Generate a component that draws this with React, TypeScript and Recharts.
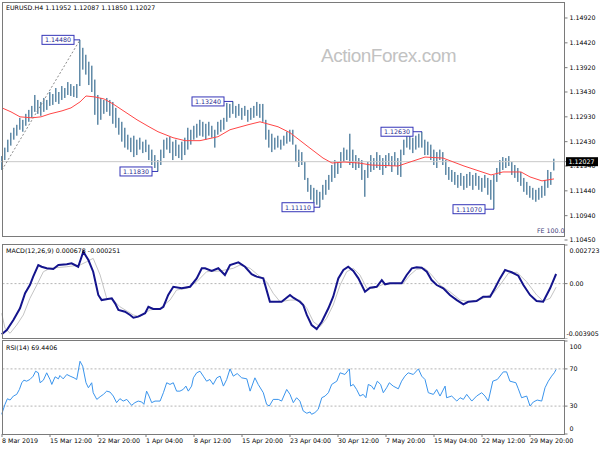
import React from "react";
import {
  ComposedChart,
  LineChart,
  Bar,
  Line,
  XAxis,
  YAxis,
  ReferenceLine,
  ReferenceDot,
} from "recharts";

// MT4-like palette
const FONT = '"DejaVu Sans", Verdana, sans-serif';
const FS = 6.3;
const INK = "#000000";
const BAR = "#48789a";
const MA_RED = "#ff4646";
const NAVY = "#14148c";
const SILVER = "#c4c4c4";
const RSI_BLUE = "#3a94ec";
const PIVOT = "#3535b8";
const FRAME = "#7a7a7a";

const lastBar = { open: 1.11952, high: 1.12087, low: 1.1185, close: 1.12027 };

// H4 bars (two bars per slot)
const priceHigh = [
  1.1214, 1.1231, 1.1247, 1.1261, 1.1271, 1.1277, 1.1291, 1.1287, 1.1299, 1.1307,
  1.1315, 1.1337, 1.1327, 1.1323, 1.1331, 1.1327, 1.1343, 1.1339, 1.1351, 1.1343,
  1.1355, 1.1351, 1.1363, 1.1359, 1.1355, 1.1359, 1.1448, 1.1432, 1.1418, 1.1404,
  1.1396, 1.1368, 1.1337, 1.1331, 1.1327, 1.1331, 1.1327, 1.1323, 1.1311, 1.1291,
  1.1283, 1.1271, 1.1257, 1.1251, 1.1255, 1.1247, 1.1251, 1.1243, 1.1247, 1.1237,
  1.1227, 1.1216, 1.1206, 1.1227, 1.1247, 1.1251, 1.1253, 1.1243, 1.1247, 1.1237,
  1.1243, 1.1251, 1.1271, 1.1267, 1.1275, 1.1279, 1.1287, 1.1283, 1.1279, 1.1283,
  1.1275, 1.1267, 1.1283, 1.1287, 1.1291, 1.1321, 1.1319, 1.1324, 1.1315, 1.1319,
  1.1311, 1.1315, 1.1307, 1.1311, 1.1315, 1.1323, 1.1319, 1.1319, 1.1287, 1.1267,
  1.1259, 1.1251, 1.1255, 1.1247, 1.1255, 1.1263, 1.1267, 1.1267, 1.1237, 1.1227,
  1.1222, 1.1202, 1.117, 1.1156, 1.115, 1.1146, 1.1142, 1.1156, 1.1166, 1.1176,
  1.1196, 1.1206, 1.1202, 1.1222, 1.1231, 1.1227, 1.1259, 1.1227, 1.1216, 1.121,
  1.1206, 1.1186, 1.1202, 1.1216, 1.121, 1.1222, 1.1216, 1.121, 1.1216, 1.122,
  1.1214, 1.1222, 1.121, 1.1227, 1.1247, 1.1259, 1.1257, 1.1251, 1.1255, 1.1259,
  1.1263, 1.1247, 1.1243, 1.1237, 1.1227, 1.1222, 1.1227, 1.1222, 1.1206, 1.1192,
  1.1186, 1.1182, 1.1176, 1.118, 1.1174, 1.1178, 1.1182, 1.1176, 1.118, 1.1174,
  1.117, 1.1176, 1.117, 1.1166, 1.1176, 1.119, 1.1206, 1.1212, 1.121, 1.1214,
  1.1202, 1.1196, 1.119, 1.1182, 1.117, 1.1162, 1.1154, 1.115, 1.1146, 1.115,
  1.1154, 1.1166, 1.1186, 1.1182, 1.12087,
];

const priceLow = [
  1.1186, 1.1206, 1.1222, 1.1235, 1.1247, 1.1255, 1.1267, 1.1263, 1.1275, 1.1283,
  1.1291, 1.1303, 1.1299, 1.1295, 1.1303, 1.1307, 1.1315, 1.1317, 1.1323, 1.1319,
  1.1327, 1.1331, 1.1337, 1.1335, 1.1333, 1.1331, 1.1355, 1.1388, 1.1378, 1.1357,
  1.1343, 1.1297, 1.1277, 1.1287, 1.1299, 1.1303, 1.1295, 1.1279, 1.1271, 1.1257,
  1.1243, 1.1231, 1.1227, 1.1222, 1.1212, 1.1216, 1.1227, 1.122, 1.1222, 1.1206,
  1.1196, 1.119, 1.1183, 1.1196, 1.121, 1.1227, 1.122, 1.1206, 1.1214, 1.121,
  1.1206, 1.1216, 1.1227, 1.1237, 1.1247, 1.1251, 1.1255, 1.1253, 1.1247, 1.1255,
  1.1251, 1.1231, 1.1257, 1.1263, 1.1267, 1.1283, 1.1291, 1.1299, 1.1291, 1.1295,
  1.1287, 1.1295, 1.1283, 1.1287, 1.1291, 1.1295, 1.1291, 1.1283, 1.1247, 1.1231,
  1.1222, 1.1227, 1.1231, 1.1227, 1.1235, 1.1239, 1.1243, 1.1237, 1.1202, 1.1192,
  1.1196, 1.1166, 1.1142, 1.1126, 1.112, 1.1116, 1.1111, 1.1126, 1.1136, 1.1146,
  1.1162, 1.117, 1.1178, 1.119, 1.1202, 1.1206, 1.1196, 1.119, 1.1186, 1.119,
  1.1166, 1.1132, 1.117, 1.1182, 1.1186, 1.119, 1.1186, 1.1176, 1.119, 1.1194,
  1.1182, 1.1194, 1.1176, 1.1172, 1.1216, 1.1231, 1.1227, 1.122, 1.1227, 1.1231,
  1.1231, 1.1216, 1.1216, 1.1206, 1.1196, 1.119, 1.1206, 1.1196, 1.1176, 1.1166,
  1.1162, 1.1156, 1.115, 1.1154, 1.1146, 1.115, 1.1154, 1.1146, 1.1154, 1.1146,
  1.1142, 1.115, 1.1136, 1.1126, 1.1107, 1.1162, 1.1176, 1.1186, 1.119, 1.1194,
  1.1176, 1.117, 1.1162, 1.1154, 1.1142, 1.1136, 1.113, 1.1126, 1.1122, 1.1126,
  1.113, 1.1134, 1.115, 1.1156, 1.1185,
];

// moving average, [slot, price]
const maPoints: [number, number][] = [
  [0, 1.1311], [3, 1.1303], [6, 1.1293], [10, 1.1291], [13, 1.1293], [16, 1.1299],
  [20, 1.1305], [23, 1.1311], [26, 1.1323], [28, 1.1335], [31, 1.1333], [34, 1.1329],
  [37, 1.1319], [40, 1.1307], [45, 1.1287], [49, 1.1273], [52, 1.1263], [57, 1.1251],
  [61, 1.1245], [66, 1.1245], [72, 1.1253], [76, 1.1267], [82, 1.1277], [86, 1.1283],
  [92, 1.1273], [96, 1.1261], [102, 1.1233], [107, 1.121], [110, 1.12], [114, 1.1202],
  [119, 1.12], [123, 1.1196], [132, 1.1194], [136, 1.1202], [141, 1.1212], [147, 1.121],
  [154, 1.1194], [163, 1.1176], [167, 1.1182], [173, 1.1182], [176, 1.1172], [180, 1.1164],
  [184, 1.1168],
];

const macdMain: [number, number][] = [
  [-0.6, -0.00357], [1.1, -0.00327], [3.3, -0.00257], [5.5, -0.00174], [7.2, -0.00068],
  [8.8, -0.0001], [9.9, 0.00049], [11.6, 0.00131], [12.7, 0.00119], [14.4, 0.00108],
  [16.6, 0.00103], [18.3, 0.00131], [21.1, 0.00136], [22.7, 0.00143], [24.9, 0.00119],
  [26.6, 0.00225], [28.3, 0.00166], [29.9, 0.00084], [31.6, -0.0008], [32.7, -0.00116],
  [36.1, -0.00104], [37.2, -0.00139], [38.3, -0.00186], [40.5, -0.00198], [42.2, -0.00221],
  [43.3, -0.0024], [44.9, -0.00233], [47.2, -0.00209], [48.3, -0.00163], [49.9, -0.00179],
  [52.2, -0.00179], [53.3, -0.00163], [54.9, -0.0008], [56.6, -0.00022], [59.4, -0.00033],
  [62.2, -0.00022], [64.4, 0.00037], [66.1, 0.00108], [67.2, 0.00108], [69.4, 0.00089],
  [71.6, 0.00108], [73.8, 0.00061], [75.5, 0.00131], [78.3, 0.0015], [80.5, 0.00119],
  [82.7, 0.00066], [84.4, 0.00049], [86.6, 0.00037], [88.8, -0.00128], [92.7, -0.00128],
  [95.5, -0.0008], [96.6, -0.00099], [98.8, -0.00128], [99.9, -0.00151], [101.1, -0.00221],
  [102.7, -0.00292], [104.4, -0.0032], [106.1, -0.00269], [108.3, -0.00174], [109.9, -0.00092],
  [111.6, 0.00037], [113.3, 0.00096], [114.9, 0.00119], [116.6, 0.00089], [118.3, 0.00037],
  [120.5, -0.00057], [122.2, -0.00029], [124.4, -0.00022], [126.1, 0.00025], [127.2, -0.00005],
  [128.8, 0.00002], [131.1, 0.00002], [132.7, 0.00002], [134.4, 0.00061], [136.1, 0.00108],
  [137.7, 0.00115], [139.4, 0.00112], [141.1, 0.00084], [142.7, 0.00025], [144.4, -0.0001],
  [146.6, -0.00033], [148.8, -0.0008], [151.1, -0.00116], [153.3, -0.00146], [154.9, -0.00128],
  [157.7, -0.00123], [159.9, -0.00092], [162.2, -0.00092], [163.8, -0.00033], [165.5, 0.00037],
  [167.2, 0.00096], [169.4, 0.0008], [171.6, 0.00056], [173.3, -0.0001], [175.5, -0.0008],
  [177.7, -0.00123], [179.9, -0.00128], [182.2, -0.00033], [184.2, 0.000678],
];

const macdSignal: [number, number][] = [
  [-0.6, -0.00209], [0.5, -0.00315], [2.2, -0.0035], [4.4, -0.00292], [6.6, -0.00221],
  [8.8, -0.00104], [11.1, -0.0001], [13.3, 0.00084], [15.5, 0.00108], [21.1, 0.00119],
  [25.5, 0.00131], [27.7, 0.00154], [29.9, 0.00178], [32.2, 0.00061], [34.4, -0.00104],
  [36.6, -0.00116], [38.8, -0.00163], [43.3, -0.00221], [45.5, -0.00233], [48.8, -0.00186],
  [52.2, -0.00174], [55.5, -0.00116], [57.7, -0.00045], [61.1, -0.00033], [64.4, 0.00013],
  [67.7, 0.00084], [72.2, 0.00089], [76.6, 0.00108], [78.8, 0.00131], [82.2, 0.00108],
  [85.5, 0.00049], [87.7, 0.00013], [89.9, -0.00068], [92.2, -0.00128], [95.5, -0.00116],
  [98.8, -0.00116], [101.1, -0.00174], [103.3, -0.00269], [105.5, -0.00304], [107.7, -0.00245],
  [109.9, -0.00151], [112.2, -0.0001], [114.4, 0.00084], [116.6, 0.00108], [118.8, 0.00061],
  [121.1, -0.00033], [123.3, -0.00033], [126.6, -0.00005], [129.9, 0.00002], [133.3, 0.00002],
  [135.5, 0.00061], [137.7, 0.00101], [140.5, 0.00108], [142.7, 0.00061], [145.5, -0.0001],
  [148.8, -0.00057], [152.2, -0.00116], [155.5, -0.00128], [159.9, -0.00104], [163.3, -0.00068],
  [165.5, -0.0001], [168.3, 0.00073], [171.1, 0.0008], [174.4, 0.00013], [177.7, -0.0008],
  [179.9, -0.00123], [182.2, -0.00104], [184.2, -0.000251],
];

const rsiPoints: [number, number][] = [
  [-0.6, 21.2], [0.5, 31.9], [1.3, 37.9], [2.2, 36.5], [3.3, 40.8], [4.4, 42.6], [5.3, 47.9],
  [6.1, 55.1], [6.8, 57.9], [7.7, 56.8], [8.8, 58.6], [9.9, 62.2], [10.7, 67.5], [11.6, 65.8],
  [12.2, 55.1], [13.3, 57.9], [14.4, 65.8], [15.5, 58.6], [16.1, 53.3], [17.2, 61.5], [18.3, 59.3],
  [18.8, 62.9], [19.9, 59.3], [21.1, 64], [22.2, 62.2], [23.5, 60.4], [24.4, 58.6], [25.5, 78.2],
  [26.4, 72.9], [27.5, 55.1], [28.3, 49.7], [29.4, 55.1], [29.9, 44.4], [31.1, 37.2], [32.2, 40.1],
  [33.3, 42.6], [34.4, 46.1], [35.5, 45.1], [36.6, 40.8], [37.7, 33.7], [38.8, 38], [39.9, 35.4],
  [41.1, 37.2], [42.7, 30.8], [43.8, 33.7], [44.9, 35.4], [46.1, 34.4], [46.8, 31.9], [47.7, 46.1],
  [48.5, 40.8], [49.4, 33.7], [50.5, 35.4], [52.2, 35.4], [53.3, 44.4], [54.4, 55.1], [55.5, 53.3],
  [56.6, 55.1], [57.7, 46.1], [58.8, 46.1], [59.9, 47.9], [60.8, 51.5], [61.6, 46.1], [62.7, 51.5],
  [63.3, 60.4], [64.4, 65.8], [65.5, 67.5], [66.6, 62.2], [67.7, 56.8], [68.8, 58.6], [69.9, 53.3],
  [71.1, 60.4], [72.2, 62.2], [73.3, 51.5], [74.4, 58.6], [75.5, 70], [76.6, 62.2], [77.9, 65],
  [79.4, 60.4], [81.1, 59.3], [82.2, 46.1], [83.8, 60.4], [84.9, 53.3], [86.6, 44.4], [87.7, 31.9],
  [88.6, 30.1], [89.9, 37.2], [91.6, 37.2], [92.7, 35.4], [94.4, 47.9], [95.5, 42.6], [96.6, 33.7],
  [97.7, 39], [98.8, 35.4], [99.9, 24.8], [101.1, 22.3], [102.2, 23.7], [102.7, 21.2], [103.8, 23],
  [104.9, 26.5], [106.1, 39], [107.2, 40.8], [108.3, 44.4], [109.4, 53.3], [111.1, 56.8],
  [112.2, 65.8], [113.8, 64], [115.3, 70], [115.7, 51.5], [116.6, 53.3], [117.7, 47.9],
  [118.8, 40.8], [119.9, 42.6], [120.8, 39], [121.6, 53.3], [122.7, 51.5], [123.5, 47.9],
  [124.6, 56.8], [125.7, 53.3], [126.6, 44.4], [127.7, 49.7], [128.6, 55.1], [129.9, 51.5],
  [131.6, 48.6], [132.7, 56.8], [133.8, 62.2], [134.9, 65.8], [136.6, 64], [138.3, 70],
  [139.4, 62.2], [140.5, 58.6], [141.6, 44.4], [143.3, 42.6], [144.4, 47.9], [145.5, 40.8],
  [147.2, 51.5], [147.7, 39], [149.4, 40.8], [151.1, 35.4], [152.2, 39], [153.3, 37.2],
  [154.4, 42.6], [156.1, 35.4], [157.7, 40.8], [159.4, 44.4], [160.5, 40.8], [161.6, 35.4],
  [163.1, 56.8], [164.6, 58.6], [166.6, 66.8], [167.7, 66.8], [168.8, 56.8], [170.8, 55.1],
  [171.6, 48.6], [172.7, 39], [174.4, 40.8], [175.5, 30.1], [176.6, 34.4], [177.9, 36.5],
  [179.4, 35.4], [180.5, 49.7], [181.6, 56.8], [182.7, 62.2], [183.6, 65.8], [184.2, 69.4406],
];

const timeLabels = [
  "8 Mar 2019", "15 Mar 12:00", "22 Mar 20:00", "1 Apr 04:00", "8 Apr 12:00", "15 Apr 20:00",
  "23 Apr 04:00", "30 Apr 12:00", "7 May 20:00", "15 May 04:00", "22 May 12:00", "29 May 20:00",
];

const priceTicks = [1.1045, 1.1094, 1.1144, 1.1194, 1.1243, 1.1293, 1.1343, 1.1392, 1.1442, 1.1492];
const PRICE_DOMAIN: [number, number] = [1.1045, 1.15222];
const MACD_DOMAIN: [number, number] = [-0.003905, 0.002723];

// swing labels: box ends at slot `from`, connector runs to the pivot bar `to`
const pivots = [
  { value: 1.1448, from: 24, to: 26 },
  { value: 1.1324, from: 74, to: 77 },
  { value: 1.1183, from: 50, to: 52 },
  { value: 1.1263, from: 137, to: 140 },
  { value: 1.1111, from: 104, to: 106 },
  { value: 1.1107, from: 161, to: 164 },
];

const SLOTS = 188; // bars + right shift

const maMap = new Map(maPoints);
const priceRows = Array.from({ length: SLOTS }, (_, j) => ({
  j,
  range: j < priceHigh.length ? [priceLow[j], priceHigh[j]] : null,
  ma: maMap.has(j) ? maMap.get(j) : null,
}));
const toRows = (pts: [number, number][]) => pts.map(([j, v]) => ({ j, v }));

const txt = { fontSize: FS, fontFamily: FONT, fill: INK };

function Stick(p: any) {
  if (!p.payload || !p.payload.range) return <g />;
  const w = 1.3;
  const y = Math.min(p.y, p.y + p.height);
  return <rect x={p.x + p.width / 2 - w / 2} y={y} width={w} height={Math.max(1, Math.abs(p.height))} fill={BAR} />;
}

function PriceTick({ x, y, payload }: any) {
  const v = payload.value;
  if (v === lastBar.close) {
    return (
      <g>
        <rect x={x - 3.5} y={y - 4.5} width={32} height={9} fill="#000" />
        <text x={x - 1} y={y + 2.3} {...txt} fill="#fff">{v.toFixed(5)}</text>
      </g>
    );
  }
  return <text x={x} y={y + 2.3} {...txt}>{v.toFixed(5)}</text>;
}

function edgeTick(fmt: (v: number) => string, lo: number, hi: number, loNudge = 0) {
  return ({ x, y, payload }: any) => {
    const v = payload.value;
    const shift = v === hi ? 5.5 : v === lo ? -5 : 0;
    return <text x={x + (v === lo ? loNudge : 0)} y={y + shift + 2.3} {...txt}>{fmt(v)}</text>;
  };
}

function TimeTick({ x, y, payload }: any) {
  const label = timeLabels[Math.round((payload.value + 0.5) / 16)];
  return <text x={x} y={y + 5.7} textAnchor="start" {...txt}>{label}</text>;
}

function PivotTag({ cx, cy, label }: any) {
  const w = 32, h = 9;
  return (
    <g>
      <rect x={cx - w} y={cy - h / 2} width={w} height={h} fill="#fff" stroke={PIVOT} strokeWidth={1} />
      <text x={cx - w / 2} y={cy + 2.3} textAnchor="middle" {...txt} fill="#2a2a90">{label}</text>
    </g>
  );
}

function PriceChart() {
  return (
    <ComposedChart width={600} height={243} data={priceRows} margin={{ top: 3, right: 0, bottom: 3, left: 0.5 }}>
      <XAxis dataKey="j" type="category" hide />
      <YAxis
        orientation="right"
        width={35.5}
        domain={PRICE_DOMAIN}
        allowDataOverflow
        ticks={[...priceTicks, lastBar.close]}
        interval={0}
        axisLine={false}
        tickSize={3}
        tickMargin={2}
        tickLine={{ stroke: FRAME }}
        tick={<PriceTick />}
      />
      <ReferenceLine y={lastBar.close} stroke="#c8c8c8" />
      <ReferenceLine
        segment={[{ x: 0, y: priceLow[0] }, { x: 26, y: priceHigh[26] }]}
        stroke="#8a8a8a"
        strokeDasharray="2 2"
      />
      <Bar dataKey="range" shape={Stick} isAnimationActive={false} />
      <Line dataKey="ma" stroke={MA_RED} strokeWidth={1} dot={false} connectNulls isAnimationActive={false} />
      {pivots.map((p) => (
        <ReferenceLine
          key={`l${p.value}`}
          segment={[{ x: p.from, y: p.value }, { x: p.to, y: p.value }]}
          stroke={PIVOT}
        />
      ))}
      {pivots.map((p) => (
        <ReferenceDot
          key={`d${p.value}`}
          x={p.from}
          y={p.value}
          r={0}
          shape={(props: any) => <PivotTag {...props} label={p.value.toFixed(5)} />}
        />
      ))}
    </ComposedChart>
  );
}

function MacdChart() {
  const [lo, hi] = MACD_DOMAIN;
  const fmt = (v: number) => (v === 0 ? "0.00" : v.toFixed(6));
  return (
    <LineChart width={600} height={95} margin={{ top: 1, right: 0, bottom: 0, left: 0.5 }}>
      <XAxis type="number" dataKey="j" domain={[-1, 187]} allowDataOverflow hide />
      <YAxis
        orientation="right"
        width={35.5}
        domain={MACD_DOMAIN}
        allowDataOverflow
        ticks={[hi, 0, lo]}
        interval={0}
        axisLine={false}
        tickSize={3}
        tickMargin={2}
        tickLine={{ stroke: FRAME }}
        tick={edgeTick(fmt, lo, hi, -3)}
      />
      <ReferenceLine y={0} stroke="#b4b4b4" strokeDasharray="2 2" />
      <Line data={toRows(macdSignal)} dataKey="v" stroke={SILVER} strokeWidth={1} dot={false} isAnimationActive={false} />
      <Line data={toRows(macdMain)} dataKey="v" stroke={NAVY} strokeWidth={2} dot={false} isAnimationActive={false} />
    </LineChart>
  );
}

function RsiChart() {
  return (
    <LineChart width={600} height={110} margin={{ top: 1, right: 0, bottom: 0, left: 0.5 }}>
      <XAxis
        type="number"
        dataKey="j"
        domain={[-1, 187]}
        allowDataOverflow
        ticks={timeLabels.map((_, n) => n * 16 - 0.5)}
        interval={0}
        height={16}
        axisLine={false}
        tickSize={3}
        tickMargin={0}
        tickLine={{ stroke: FRAME }}
        tick={<TimeTick />}
      />
      <YAxis
        orientation="right"
        width={35.5}
        domain={[0, 100]}
        allowDataOverflow
        ticks={[100, 70, 30, 0]}
        interval={0}
        axisLine={false}
        tickSize={3}
        tickMargin={2}
        tickLine={{ stroke: FRAME }}
        tick={edgeTick((v) => String(v), 0, 100)}
      />
      <ReferenceLine y={70} stroke="#b4b4b4" strokeDasharray="2 2" />
      <ReferenceLine y={30} stroke="#b4b4b4" strokeDasharray="2 2" />
      <Line data={toRows(rsiPoints)} dataKey="v" stroke={RSI_BLUE} strokeWidth={1} dot={false} isAnimationActive={false} />
    </LineChart>
  );
}

const frame = (top: number, height: number): React.CSSProperties => ({
  position: "absolute",
  left: 2,
  top,
  width: 563,
  height,
  boxSizing: "border-box",
  border: `1px solid ${FRAME}`,
  pointerEvents: "none",
});

export default function App() {
  const title = `EURUSD.H4 ${[lastBar.open, lastBar.high, lastBar.low, lastBar.close].map((v) => v.toFixed(5)).join(" ")}`;
  const macdTitle = `MACD(12,26,9) ${macdMain[macdMain.length - 1][1].toFixed(6)} ${macdSignal[macdSignal.length - 1][1].toFixed(6)}`;
  const rsiTitle = `RSI(14) ${rsiPoints[rsiPoints.length - 1][1].toFixed(4)}`;
  return (
    <div style={{ position: "fixed", left: 0, top: 0, width: 600, height: 450, background: "#fff", overflow: "hidden" }}>
      <svg width={600} height={450} style={{ position: "absolute", left: 0, top: 0 }}>
        <text x={321} y={62} fontSize={19} letterSpacing={-0.5} fontFamily='"Liberation Sans", Arial, sans-serif' fill="#c2c2c2">
          ActionForex.com
        </text>
      </svg>
      <div style={{ position: "absolute", left: 0, top: 0 }}><PriceChart /></div>
      <div style={{ position: "absolute", left: 0, top: 244 }}><MacdChart /></div>
      <div style={{ position: "absolute", left: 0, top: 340 }}><RsiChart /></div>
      <div style={frame(2, 235)} />
      <div style={frame(244, 95)} />
      <div style={frame(340, 95)} />
      <svg width={600} height={450} style={{ position: "absolute", left: 0, top: 0, pointerEvents: "none" }}>
        <text x={6} y={9.5} {...txt}>{title}</text>
        <text x={6} y={253} {...txt}>{macdTitle}</text>
        <text x={6} y={350} {...txt}>{rsiTitle}</text>
        <text x={537} y={233} {...txt} fill="#3c3c78">FE 100.0</text>
      </svg>
    </div>
  );
}
